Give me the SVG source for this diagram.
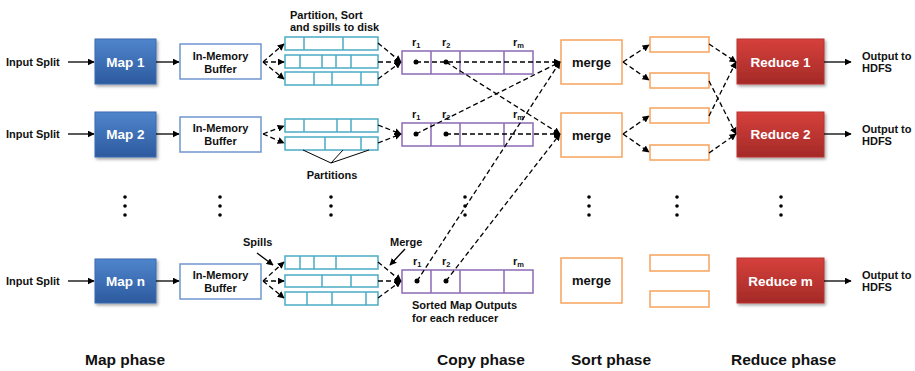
<svg xmlns="http://www.w3.org/2000/svg" width="915" height="371" viewBox="0 0 915 371">
  <defs>
    <linearGradient id="gBlue" x1="0" y1="0" x2="0" y2="1">
      <stop offset="0" stop-color="#4f85cc"/>
      <stop offset="1" stop-color="#2d5a9e"/>
    </linearGradient>
    <linearGradient id="gRed" x1="0" y1="0" x2="0" y2="1">
      <stop offset="0" stop-color="#d6403c"/>
      <stop offset="1" stop-color="#a42a27"/>
    </linearGradient>
    <filter id="shadow" x="-10%" y="-10%" width="130%" height="140%">
      <feDropShadow dx="1.5" dy="2" stdDeviation="1.5" flood-color="#000" flood-opacity="0.35"/>
    </filter>
    <marker id="ah" viewBox="0 0 10 10" refX="9" refY="5" markerWidth="7" markerHeight="7" markerUnits="userSpaceOnUse" orient="auto">
      <path d="M0,0 L10,5 L0,10 z" fill="#000"/>
    </marker>
  </defs>
  <style>
    text { font-family: "Liberation Sans", Arial, sans-serif; font-weight: bold; fill: #111; }
    .lbl { font-size: 11px; }
    .box-title { font-size: 13.5px; fill: #fff; text-anchor: middle; }
    .mid { text-anchor: middle; }
    .phase { font-size: 15.5px; }
    .map { fill: url(#gBlue); stroke: #3a6bb0; stroke-width: 1; filter: url(#shadow); }
    .red { fill: url(#gRed); stroke: #b83430; stroke-width: 1; filter: url(#shadow); }
    .buf { fill: #fff; stroke: #6f96cf; stroke-width: 1.5; }
    .spill { fill: #fff; stroke: #4bacc6; stroke-width: 1.5; }
    .sorted { fill: #fff; stroke: #8c6ab4; stroke-width: 1.5; }
    .mrg { fill: #fff; stroke: #f7a35c; stroke-width: 1.5; }
    .solid { stroke: #000; stroke-width: 1.3; fill: none; }
    .dash { stroke: #000; stroke-width: 1.3; fill: none; stroke-dasharray: 5 3; }
    .thin { stroke: #000; stroke-width: 1; fill: none; }
  </style>

  <!-- Row 1 -->
  <g id="input1"><text class="lbl" x="6" y="66">Input Split</text></g>
  <g id="map1"><rect class="map" x="95" y="39" width="61" height="45"/><text class="box-title" x="125.5" y="66.5">Map 1</text></g>
  <g id="buffer1"><rect class="buf" x="180" y="44" width="81" height="35"/><text class="lbl mid" x="220.5" y="60">In-Memory</text><text class="lbl mid" x="220.5" y="73">Buffer</text></g>
  <g id="spillCaption"><text class="lbl" x="290" y="19">Partition, Sort</text><text class="lbl" x="290" y="31">and spills to disk</text></g>
  <g id="spills1">
    <rect class="spill" x="285" y="37" width="93" height="13"/>
    <path class="spill" d="M304,37v13M343,37v13"/>
    <rect class="spill" x="285" y="55" width="93" height="13"/>
    <path class="spill" d="M300,55v13M322,55v13M336,55v13M351,55v13"/>
    <rect class="spill" x="285" y="72" width="93" height="13"/>
    <path class="spill" d="M314,72v13M332,72v13M361,72v13"/>
  </g>
  <g id="sorted1">
    <rect class="sorted" x="402" y="51" width="131" height="23"/>
    <path class="sorted" d="M431,51v23M460,51v23M504,51v23"/>
    <text class="lbl" x="412" y="46">r<tspan font-size="7.5" dy="2">1</tspan></text>
    <text class="lbl" x="442" y="46">r<tspan font-size="7.5" dy="2">2</tspan></text>
    <text class="lbl" x="513" y="46">r<tspan font-size="7.5" dy="2">m</tspan></text>
    <circle cx="416" cy="62" r="2.5"/><circle cx="446" cy="62" r="2.5"/>
  </g>
  <g id="merge1"><rect class="mrg" x="561" y="40" width="61" height="44"/><text class="mid" font-size="13" x="591.5" y="66.5">merge</text></g>
  <g id="seg1a"><rect class="mrg" x="650" y="37" width="59" height="15"/></g>
  <g id="seg1b"><rect class="mrg" x="650" y="73" width="59" height="15"/></g>
  <g id="reduce1"><rect class="red" x="737" y="39" width="87" height="45"/><text class="box-title" x="780.5" y="66.5">Reduce 1</text></g>
  <g id="output1"><text class="lbl" x="862" y="60">Output to</text><text class="lbl" x="862" y="72">HDFS</text></g>

  <!-- Row 2 -->
  <g id="input2"><text class="lbl" x="6" y="138">Input Split</text></g>
  <g id="map2"><rect class="map" x="95" y="112" width="61" height="45"/><text class="box-title" x="125.5" y="139">Map 2</text></g>
  <g id="buffer2"><rect class="buf" x="180" y="117" width="81" height="35"/><text class="lbl mid" x="220.5" y="132">In-Memory</text><text class="lbl mid" x="220.5" y="145">Buffer</text></g>
  <g id="spills2">
    <rect class="spill" x="285" y="119" width="93" height="13"/>
    <path class="spill" d="M304,119v13M337,119v13M351,119v13"/>
    <rect class="spill" x="285" y="137" width="93" height="13"/>
    <path class="spill" d="M325,137v13M361,137v13"/>
  </g>
  <g id="partitions">
    <path class="thin" d="M303,150L331,163L343,150M331,163L369,150"/>
    <text class="lbl mid" x="332" y="179">Partitions</text>
  </g>
  <g id="sorted2">
    <rect class="sorted" x="402" y="123" width="131" height="23"/>
    <path class="sorted" d="M431,123v23M460,123v23M504,123v23"/>
    <text class="lbl" x="412" y="118">r<tspan font-size="7.5" dy="2">1</tspan></text>
    <text class="lbl" x="442" y="118">r<tspan font-size="7.5" dy="2">2</tspan></text>
    <text class="lbl" x="513" y="118">r<tspan font-size="7.5" dy="2">m</tspan></text>
    <circle cx="416" cy="134" r="2.5"/><circle cx="446" cy="134" r="2.5"/>
  </g>
  <g id="merge2"><rect class="mrg" x="561" y="113" width="61" height="44"/><text class="mid" font-size="13" x="591.5" y="139.5">merge</text></g>
  <g id="seg2a"><rect class="mrg" x="650" y="108" width="59" height="15"/></g>
  <g id="seg2b"><rect class="mrg" x="650" y="145" width="59" height="15"/></g>
  <g id="reduce2"><rect class="red" x="737" y="112" width="87" height="45"/><text class="box-title" x="780.5" y="139">Reduce 2</text></g>
  <g id="output2"><text class="lbl" x="862" y="133">Output to</text><text class="lbl" x="862" y="145">HDFS</text></g>

  <!-- Ellipsis columns -->
  <g id="ellipsis">
    <circle cx="125" cy="197" r="1.8"/><circle cx="125" cy="206" r="1.8"/><circle cx="125" cy="215" r="1.8"/>
    <circle cx="220" cy="197" r="1.8"/><circle cx="220" cy="206" r="1.8"/><circle cx="220" cy="215" r="1.8"/>
    <circle cx="331" cy="197" r="1.8"/><circle cx="331" cy="206" r="1.8"/><circle cx="331" cy="215" r="1.8"/>
    <circle cx="465" cy="197" r="1.8"/><circle cx="465" cy="206" r="1.8"/><circle cx="465" cy="215" r="1.8"/>
    <circle cx="589" cy="197" r="1.8"/><circle cx="589" cy="206" r="1.8"/><circle cx="589" cy="215" r="1.8"/>
    <circle cx="677" cy="197" r="1.8"/><circle cx="677" cy="206" r="1.8"/><circle cx="677" cy="215" r="1.8"/>
    <circle cx="781" cy="197" r="1.8"/><circle cx="781" cy="206" r="1.8"/><circle cx="781" cy="215" r="1.8"/>
  </g>

  <!-- Row n -->
  <g id="inputn"><text class="lbl" x="6" y="285">Input Split</text></g>
  <g id="mapn"><rect class="map" x="95" y="259" width="61" height="44"/><text class="box-title" x="125.5" y="286">Map n</text></g>
  <g id="buffern"><rect class="buf" x="180" y="264" width="81" height="35"/><text class="lbl mid" x="220.5" y="279">In-Memory</text><text class="lbl mid" x="220.5" y="292">Buffer</text></g>
  <g id="spillsn">
    <rect class="spill" x="285" y="256" width="93" height="13"/>
    <path class="spill" d="M300,256v13M314,256v13M336,256v13"/>
    <rect class="spill" x="285" y="275" width="93" height="12"/>
    <path class="spill" d="M322,275v12M351,275v12"/>
    <rect class="spill" x="285" y="292" width="93" height="13"/>
    <path class="spill" d="M307,292v13M332,292v13M366,292v13"/>
  </g>
  <g id="spillsLabel"><text class="lbl" x="243" y="246">Spills</text></g>
  <g id="mergeLabel"><text class="lbl" x="390" y="246">Merge</text></g>
  <g id="sortedn">
    <rect class="sorted" x="402" y="270" width="131" height="23"/>
    <path class="sorted" d="M431,270v23M460,270v23M504,270v23"/>
    <text class="lbl" x="413" y="265">r<tspan font-size="7.5" dy="2">1</tspan></text>
    <text class="lbl" x="442" y="265">r<tspan font-size="7.5" dy="2">2</tspan></text>
    <text class="lbl" x="513" y="265">r<tspan font-size="7.5" dy="2">m</tspan></text>
    <circle cx="417" cy="281" r="2.5"/><circle cx="446" cy="281" r="2.5"/>
    <text class="lbl" x="412" y="309">Sorted Map Outputs</text>
    <text class="lbl" x="412" y="322">for each reducer</text>
  </g>
  <g id="mergen"><rect class="mrg" x="561" y="258" width="61" height="45"/><text class="mid" font-size="13" x="591.5" y="285">merge</text></g>
  <g id="segna"><rect class="mrg" x="650" y="255" width="59" height="16"/></g>
  <g id="segnb"><rect class="mrg" x="650" y="291" width="59" height="16"/></g>
  <g id="reducem"><rect class="red" x="737" y="258" width="87" height="45"/><text class="box-title" x="780.5" y="285.5">Reduce m</text></g>
  <g id="outputn"><text class="lbl" x="862" y="279">Output to</text><text class="lbl" x="862" y="291">HDFS</text></g>

  <!-- Phase captions -->
  <g id="phases">
    <text class="phase" x="85" y="365">Map phase</text>
    <text class="phase" x="437" y="365">Copy phase</text>
    <text class="phase" x="571" y="365">Sort phase</text>
    <text class="phase" x="731" y="365">Reduce phase</text>
  </g>

  <!-- Connectors -->
  <g id="connectors">
    <!-- input -> map -> buffer, reducer -> HDFS -->
    <path class="solid" marker-end="url(#ah)" d="M68,62H94"/>
    <path class="solid" marker-end="url(#ah)" d="M156,62H179"/>
    <path class="solid" marker-end="url(#ah)" d="M68,134H94"/>
    <path class="solid" marker-end="url(#ah)" d="M156,134H179"/>
    <path class="solid" marker-end="url(#ah)" d="M68,281H94"/>
    <path class="solid" marker-end="url(#ah)" d="M156,281H179"/>
    <path class="solid" marker-end="url(#ah)" d="M824,62H851"/>
    <path class="solid" marker-end="url(#ah)" d="M824,134H851"/>
    <path class="solid" marker-end="url(#ah)" d="M824,281H851"/>
    <path class="solid" marker-end="url(#ah)" d="M257,253L273,265"/>
    <path class="solid" marker-end="url(#ah)" d="M405,249L390,265"/>

    <!-- buffer -> spill files -->
    <path class="dash" marker-end="url(#ah)" d="M263,62L284,44"/>
    <path class="dash" marker-end="url(#ah)" d="M263,62H284"/>
    <path class="dash" marker-end="url(#ah)" d="M263,62L284,79"/>
    <path class="dash" marker-end="url(#ah)" d="M263,134L284,126"/>
    <path class="dash" marker-end="url(#ah)" d="M263,134L284,143"/>
    <path class="dash" marker-end="url(#ah)" d="M263,281L284,262"/>
    <path class="dash" marker-end="url(#ah)" d="M263,281H284"/>
    <path class="dash" marker-end="url(#ah)" d="M263,281L284,298"/>

    <!-- spill files -> sorted map output -->
    <path class="dash" marker-end="url(#ah)" d="M378,43L401,62"/>
    <path class="dash" marker-end="url(#ah)" d="M378,62H401"/>
    <path class="dash" marker-end="url(#ah)" d="M378,79L401,62"/>
    <path class="dash" marker-end="url(#ah)" d="M378,125L401,134"/>
    <path class="dash" marker-end="url(#ah)" d="M378,143L401,134"/>
    <path class="dash" marker-end="url(#ah)" d="M378,262L401,281"/>
    <path class="dash" marker-end="url(#ah)" d="M378,281H401"/>
    <path class="dash" marker-end="url(#ah)" d="M378,298L401,281"/>

    <!-- copy: partitions -> merge -->
    <path class="dash" marker-end="url(#ah)" d="M416,62H560"/>
    <path class="dash" marker-end="url(#ah)" d="M446,62L560,134"/>
    <path class="dash" marker-end="url(#ah)" d="M416,134L560,62"/>
    <path class="dash" marker-end="url(#ah)" d="M446,134H560"/>
    <path class="dash" marker-end="url(#ah)" d="M417,281L560,62"/>
    <path class="dash" marker-end="url(#ah)" d="M446,281L560,134"/>

    <!-- sort: merge -> segments -->
    <path class="dash" marker-end="url(#ah)" d="M623,62L649,45"/>
    <path class="dash" marker-end="url(#ah)" d="M623,62L649,80"/>
    <path class="dash" marker-end="url(#ah)" d="M623,134L649,116"/>
    <path class="dash" marker-end="url(#ah)" d="M623,134L649,152"/>

    <!-- segments -> reducers -->
    <path class="dash" marker-end="url(#ah)" d="M709,44L736,62"/>
    <path class="dash" marker-end="url(#ah)" d="M709,116L736,62"/>
    <path class="dash" marker-end="url(#ah)" d="M709,81L736,134"/>
    <path class="dash" marker-end="url(#ah)" d="M709,153L736,134"/>
  </g>
</svg>
